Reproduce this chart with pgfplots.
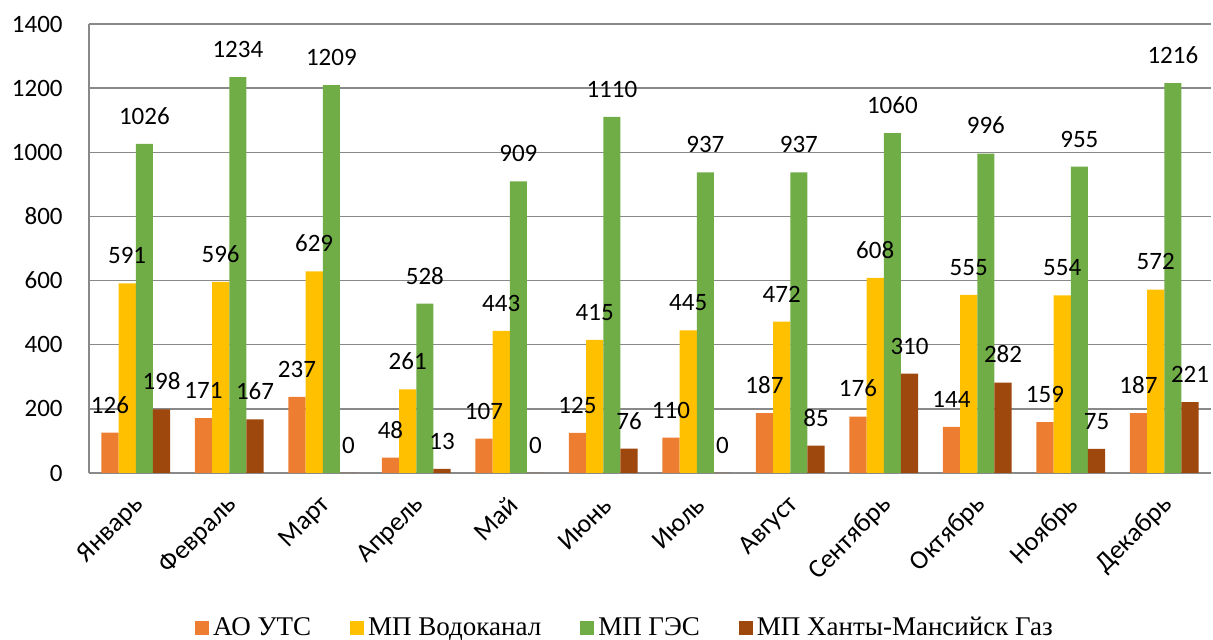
\documentclass[border=0pt]{standalone}
\usepackage{fontspec}
\setmainfont{Liberation Serif}
\newfontfamily\calibri{Carlito}
\usepackage{pgfplots}
\pgfplotsset{compat=1.18}
\definecolor{cA}{HTML}{ED7D31}
\definecolor{cB}{HTML}{FFC000}
\definecolor{cC}{HTML}{70AD47}
\definecolor{cD}{HTML}{9E480E}
\definecolor{gridgray}{RGB}{137,137,137}
\begin{document}
\begin{tikzpicture}
\begin{axis}[name=ax, scale only axis, width=561pt, height=224.5pt,
  ybar=0pt, bar width=8.6pt,
  xmin=-0.5, xmax=11.5, ymin=0, ymax=1400, ytick={0,200,...,1400},
  xtick={0,...,11},
  xticklabels={Январь,Февраль,Март,Апрель,Май,Июнь,Июль,Август,Сентябрь,Октябрь,Ноябрь,Декабрь},
  axis x line*=bottom, axis y line*=left,
  axis line style={draw=gridgray, line width=0.75pt, -},
  ymajorgrids, grid style={draw=gridgray, line width=0.75pt},
  major tick length=0pt,
  tick label style={font=\calibri\fontsize{12.5}{15}\selectfont},
  /pgf/number format/assume math mode=true,
  /pgf/number format/1000 sep={},
  yticklabel style={xshift=-13pt, inner sep=0pt, anchor=east},
  xticklabel style={font=\calibri\fontsize{13.3}{15}\selectfont, yshift=-14pt, xshift=2pt, rotate=45, anchor=east, inner sep=0pt},
  nodes near coords,
  every node near coord/.append style={font=\calibri\fontsize{12.5}{15}\selectfont, anchor=south, inner sep=0pt, yshift=9.5pt, text=black},
  legend columns=4,
  legend style={at={(0.5,0)}, anchor=center, xshift=-12pt, yshift=-77.5pt, draw=none,
    font=\fontsize{13.5}{15}\selectfont,
    /tikz/every even column/.append style={column sep=17.5pt}},
  legend image code/.code={\fill[#1] (0pt,-3.5pt) rectangle (7pt,3.5pt);},
]
\addplot[fill=cA, draw=none] coordinates {(0,126) (1,171) (2,237) (3,48) (4,107) (5,125) (6,110) (7,187) (8,176) (9,144) (10,159) (11,187)};
\addplot[fill=cB, draw=none] coordinates {(0,591) (1,596) (2,629) (3,261) (4,443) (5,415) (6,445) (7,472) (8,608) (9,555) (10,554) (11,572)};
\addplot[fill=cC, draw=none] coordinates {(0,1026) (1,1234) (2,1209) (3,528) (4,909) (5,1110) (6,937) (7,937) (8,1060) (9,996) (10,955) (11,1216)};
\addplot[fill=cD, draw=none] coordinates {(0,198) (1,167) (2,0) (3,13) (4,0) (5,76) (6,0) (7,85) (8,310) (9,282) (10,75) (11,221)};
\legend{АО УТС, МП Водоканал, МП ГЭС, МП Ханты-Мансийск Газ}
\end{axis}
\pgfresetboundingbox
\path[use as bounding box] ([xshift=-44.5pt, yshift=-83.5pt]ax.south west) rectangle ([xshift=1pt, yshift=12pt]ax.north east);
\end{tikzpicture}
\end{document}
